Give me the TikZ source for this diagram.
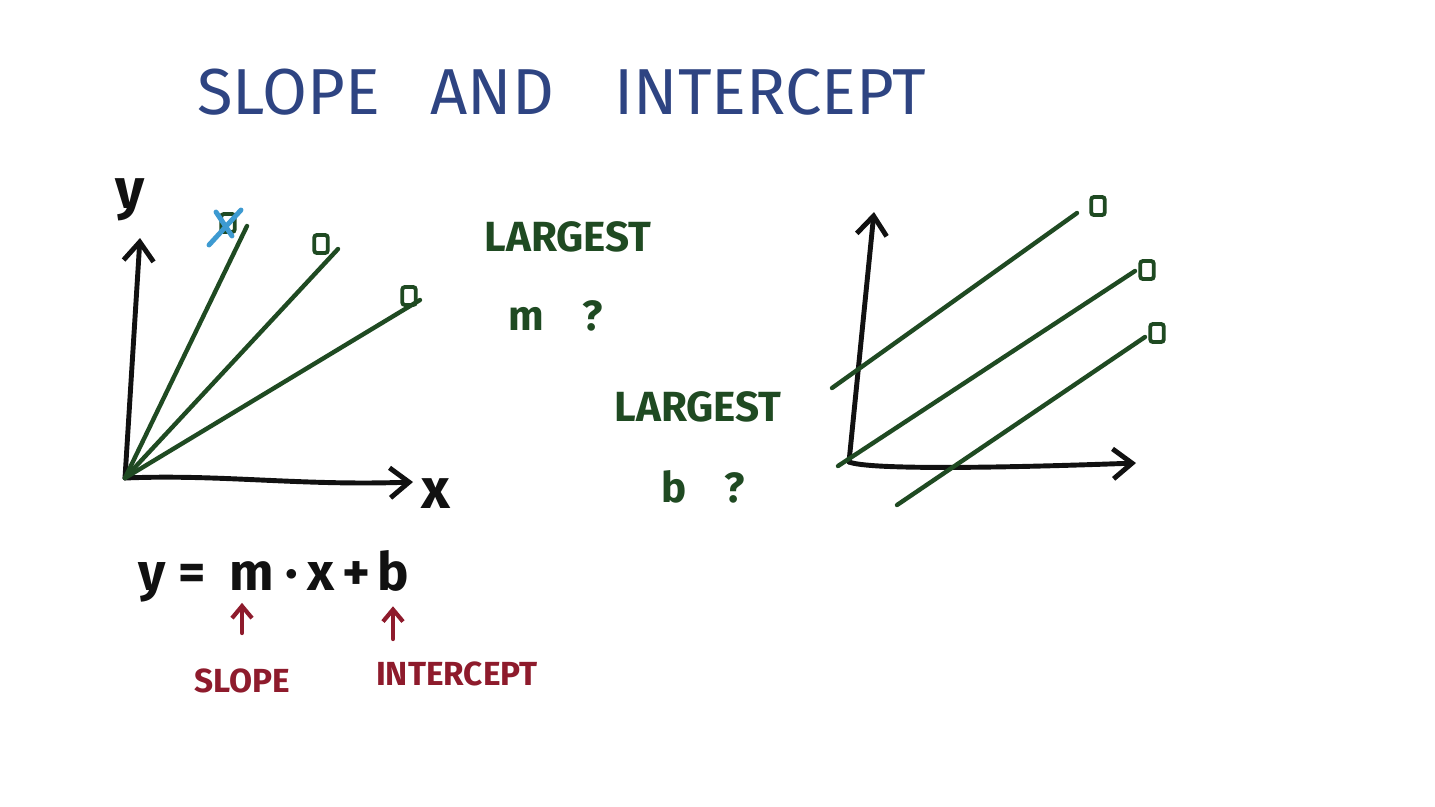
\documentclass[tikz,border=0pt]{standalone}
\usepackage{fontspec}
\setmainfont{Fira Sans}
\usepackage{tikz}
\usetikzlibrary{positioning, arrows.meta}
\definecolor{penblue}{HTML}{2E4482}
\definecolor{pengreen}{HTML}{1F4A22}
\definecolor{penred}{HTML}{8E1B2C}
\definecolor{ink}{HTML}{111111}
\definecolor{tickblue}{HTML}{3D9AD1}
\tikzset{
  axis/.style     = {draw=ink, line width=2.8pt, line cap=round,
                     -{Straight Barb[length=0.38cm, width=0.6cm]}},
  fitline/.style  = {draw=pengreen, line width=2.5pt, line cap=round},
  tickbox/.style  = {rectangle, draw=pengreen, line width=2.2pt, rounded corners=1.5pt,
                     minimum width=0.27cm, minimum height=0.36cm, inner sep=0pt},
  crossout/.style = {draw=tickblue, line width=2.8pt, line cap=round},
  title/.style    = {text=penblue, font=\fontsize{37}{42}\selectfont, inner sep=0pt},
  quest/.style    = {text=pengreen, font=\bfseries\fontsize{24}{28}\selectfont, inner sep=0pt},
  axlab/.style    = {text=ink, font=\bfseries\fontsize{32}{36}\selectfont, inner sep=0pt},
  eqpart/.style   = {text=ink, font=\bfseries\fontsize{30}{34}\selectfont, inner sep=0pt},
  note/.style     = {text=penred, font=\bfseries\fontsize{19}{24}\selectfont, inner sep=0pt},
  redar/.style    = {draw=penred, line width=2.4pt, line cap=round,
                     -{Straight Barb[length=0.24cm, width=0.4cm]}},
}

\begin{document}
\begin{tikzpicture}[x=0.02cm, y=-0.02cm]

  \useasboundingbox (0,0) rectangle (1435,806);
  \fill[white] (0,0) rectangle (1435,806);

  % title
  \node[title, anchor=base west] (ttlslope) at (197,114) {SLOPE};
  \node[title, base right=1.0cm of ttlslope] (ttland) {AND};
  \node[title, base right=1.2cm of ttland] (ttlint) {INTERCEPT};

  % left plot: same intercept, different slopes
  \coordinate (lo) at (125,478);
  \coordinate (lytip) at (140,238);
  \coordinate (lxtip) at (413,482);
  \coordinate (lsteep) at (247,226);
  \coordinate (lmid) at (338,249);
  \coordinate (lflat) at (420,300);

  \draw[axis] (lo) -- (lytip);
  \draw[axis] (lo) .. controls (220,474) and (300,486) .. (lxtip);
  \draw[fitline] (lo) -- (lsteep);
  \draw[fitline] (lo) -- (lmid);
  \draw[fitline] (lo) -- (lflat);

  \node[axlab] (ylab) at (130,200) {y};
  \node[axlab] (xlab) at (436,494) {x};

  \node[tickbox] (boxa) at (228,223) {};
  \node[tickbox] (boxb) at (321,244) {};
  \node[tickbox] (boxc) at (409,296) {};
  \draw[crossout] ([shift={(13,-13)}]boxa.center) -- ([shift={(-19,22)}]boxa.center);
  \draw[crossout] ([shift={(-12,-11)}]boxa.center) -- ([shift={(4,13)}]boxa.center);

  % questions
  \node[quest] (bigm) at (568,237) {LARGEST};
  \node[quest, below=0.95cm of bigm, xshift=-0.25cm] (qm) {m\hspace{0.9em}?};
  \node[quest] (bigb) at (698,407) {LARGEST};
  \node[quest, below=0.95cm of bigb, xshift=0.1cm] (qb) {b\hspace{0.9em}?};

  % right plot: same slope, different intercepts
  \coordinate (ro) at (849,462);
  \coordinate (rytip) at (874,212);
  \coordinate (rxtip) at (1136,463);
  \coordinate (rtopa) at (832,388);
  \coordinate (rtopb) at (1077,213);
  \coordinate (rmida) at (838,466);
  \coordinate (rmidb) at (1135,271);
  \coordinate (rlowa) at (897,505);
  \coordinate (rlowb) at (1145,337);

  \draw[axis] (ro) -- (rytip);
  \draw[axis] (ro) .. controls (870,470) and (1000,468) .. (rxtip);
  \draw[fitline] (rtopa) -- (rtopb);
  \draw[fitline] (rmida) -- (rmidb);
  \draw[fitline] (rlowa) -- (rlowb);

  \node[tickbox] (boxd) at (1098,206) {};
  \node[tickbox] (boxe) at (1147,270) {};
  \node[tickbox] (boxf) at (1157,333) {};

  % equation
  \node[eqpart, anchor=base] (eqy) at (172,590) {y =};
  \node[eqpart, anchor=base] (eqm) at (252,590) {m};
  \node[eqpart, anchor=base] (eqx) at (310,590) {·\,x};
  \node[eqpart, anchor=base] (eqplus) at (356,590) {+};
  \node[eqpart, anchor=base] (eqb) at (393,590) {b};

  \node[note] (noteslope) at (242,681) {SLOPE};
  \node[note] (noteint) at (457,674) {INTERCEPT};
  \coordinate (slopefoot) at (242,633);
  \coordinate (intfoot) at (393,639);

  \draw[redar] (slopefoot) -- ([yshift=-0.25cm]slopefoot |- eqm.south);
  \draw[redar] (intfoot) -- ([yshift=-0.3cm]eqb.south);

\end{tikzpicture}
\end{document}
